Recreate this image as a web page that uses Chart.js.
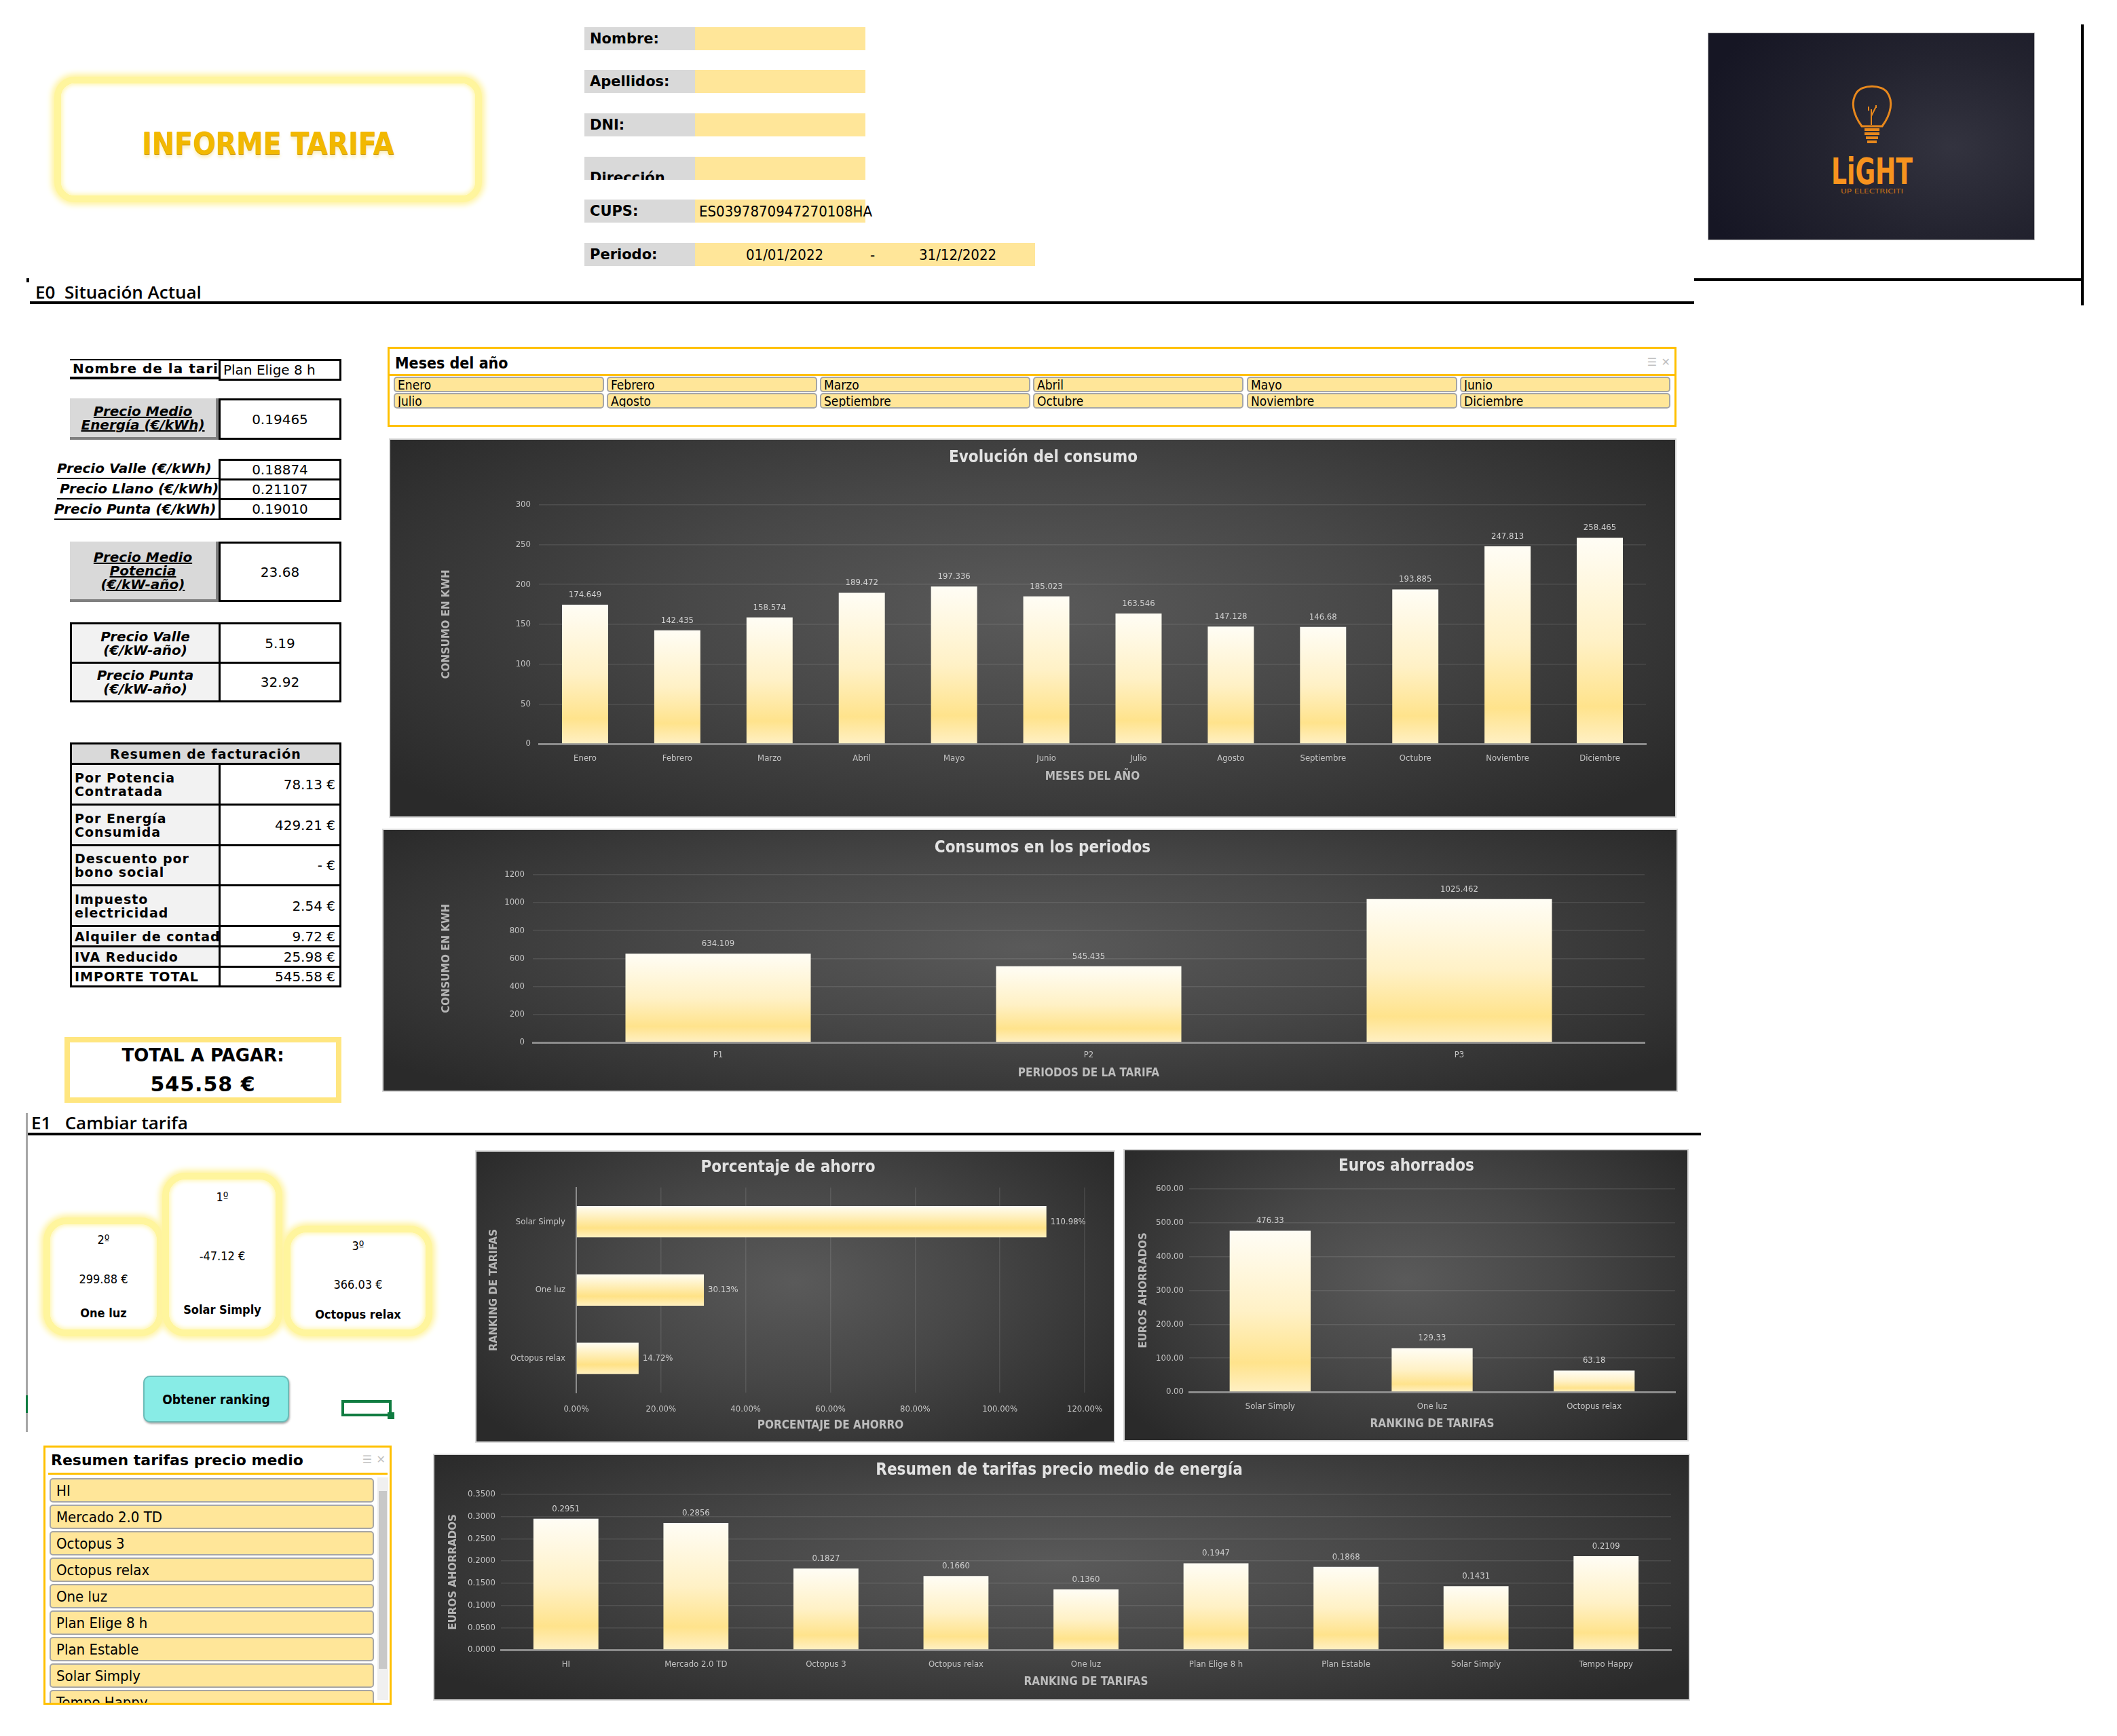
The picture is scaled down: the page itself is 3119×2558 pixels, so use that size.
<!DOCTYPE html>
<html lang="es">
<head>
<meta charset="utf-8">
<title>Informe tarifa</title>
<script src="https://cdn.jsdelivr.net/npm/chart.js@4.4.1/dist/chart.umd.min.js"></script>
<style>
html, body { margin: 0; padding: 0; background: #fff; }
body { width: 3119px; height: 2558px; position: relative; overflow: hidden; font-family: 'DejaVu Sans Condensed', 'DejaVu Sans', sans-serif; color: #000; }
.a { position: absolute; box-sizing: border-box; }
.bar { position: absolute; background: #000; }
.flbl { position: absolute; box-sizing: border-box; background: #d9d9d9; font: bold 21px 'DejaVu Sans', sans-serif; display: flex; align-items: center; padding-left: 8px; }
.fval { position: absolute; box-sizing: border-box; background: #ffe699; font-size: 22px; display: flex; align-items: center; white-space: nowrap; }
.c { position: absolute; box-sizing: border-box; overflow: hidden; font-family: 'DejaVu Sans', sans-serif; font-size: 20px; display: flex; align-items: center; }
.lab { font-weight: bold; font-style: italic; line-height: 20px; justify-content: center; text-align: center; }
.und { text-decoration: underline; }
.gray { background: #d9d9d9; border-right: 4px solid #7f7f7f; border-bottom: 4px solid #7f7f7f; }
.lgray { background: #f2f2f2; }
.box { border: 3px solid #000; }
.val { justify-content: center; }
.rl { font-weight: bold; letter-spacing: 1px; line-height: 20px; padding-left: 4px; background: #f2f2f2; font-size: 19px; }
.rv { justify-content: flex-end; padding-right: 6px; }
.chart { position: absolute; border: 2px solid #d9d9d9; background: radial-gradient(ellipse 62% 75% at 50% 45%, #5a5a5a 0%, #474747 45%, #2a2a2a 100%); }
.glow { position: absolute; box-sizing: border-box; border: 10px solid #fff59d; border-radius: 30px; box-shadow: 0 0 8px 4px #fff3a0, inset 0 0 6px 2px #fff6b0; background: #fff; }
.rank { position: absolute; left: 0; width: 100%; text-align: center; font-size: 18px; }
.slicer { position: absolute; box-sizing: border-box; border: 3px solid #ffc000; background: #fff; }
.sbtn { position: absolute; box-sizing: border-box; background: #ffe699; border: 2px solid #a6a6a6; border-radius: 5px; font-size: 20px; display: flex; align-items: center; padding-left: 4px; white-space: nowrap; overflow: hidden; }
.ico { position: absolute; color: #c0c0c0; font: 16px 'DejaVu Sans', sans-serif; }
</style>
</head>
<body>

<!-- cabecera -->
<div class="glow" style="left:80px;top:113px;width:630px;height:185px;"></div>
<div class="a" style="left:80px;top:186px;width:630px;text-align:center;font:bold 44px 'DejaVu Sans Condensed',sans-serif;color:#f2b800;text-shadow:0 1px 0 #c99200, 0 5px 4px rgba(240,190,0,0.25);">INFORME TARIFA</div>

<div class="flbl" style="left:861px;top:40px;width:163px;height:34px;">Nombre:</div>
<div class="fval" style="left:1024px;top:40px;width:251px;height:34px;"></div>
<div class="flbl" style="left:861px;top:103px;width:163px;height:34px;">Apellidos:</div>
<div class="fval" style="left:1024px;top:103px;width:251px;height:34px;"></div>
<div class="flbl" style="left:861px;top:167px;width:163px;height:34px;">DNI:</div>
<div class="fval" style="left:1024px;top:167px;width:251px;height:34px;"></div>
<div class="flbl" style="left:861px;top:231px;width:163px;height:34px;overflow:hidden;align-items:flex-end;padding-bottom:0;"><span style="position:relative;top:9px;">Dirección</span></div>
<div class="fval" style="left:1024px;top:231px;width:251px;height:34px;"></div>
<div class="flbl" style="left:861px;top:294px;width:163px;height:34px;">CUPS:</div>
<div class="fval" style="left:1024px;top:294px;width:251px;height:34px;padding-left:6px;overflow:visible;">ES0397870947270108HA</div>
<div class="flbl" style="left:861px;top:358px;width:163px;height:34px;">Periodo:</div>
<div class="fval" style="left:1024px;top:358px;width:501px;height:34px;">
  <span style="position:absolute;left:75px;">01/01/2022</span>
  <span style="position:absolute;left:258px;">-</span>
  <span style="position:absolute;left:330px;">31/12/2022</span>
</div>

<!-- logo -->
<div class="a" style="left:2516px;top:48px;width:482px;height:306px;background:radial-gradient(ellipse 80% 90% at 75% 55%, #33333f 0%, #23232f 50%, #161624 100%);border:1px solid #bbb;">
  <svg width="482" height="306" style="position:absolute;left:0;top:0;">
    <path d="M226 137 C212 118 210 100 218 88 C226 75 256 75 264 88 C272 100 270 118 256 137 Z" fill="none" stroke="#e8881c" stroke-width="3"/>
    <path d="M240 135 L240 112 M240 122 L247 108 M236 108 L236 114 M247 106 L247 110" stroke="#e8881c" stroke-width="2" fill="none"/>
    <path d="M230 142 L252 142 M230 148 L252 148 M232 154 L250 154 M234 160 L248 160" stroke="#e8881c" stroke-width="4"/>
    <text x="241" y="222" text-anchor="middle" font-family="DejaVu Sans Condensed" font-weight="bold" font-size="54" fill="#f7931e" textLength="120" lengthAdjust="spacingAndGlyphs">LiGHT</text>
    <text x="241" y="236" text-anchor="middle" font-family="DejaVu Sans Condensed" font-size="9" fill="#c97418" textLength="92" lengthAdjust="spacingAndGlyphs">UP ELECTRICITI</text>
  </svg>
</div>
<div class="bar" style="left:3066px;top:36px;width:4px;height:414px;"></div>
<div class="bar" style="left:2496px;top:410px;width:574px;height:4px;"></div>

<!-- E0 -->
<div class="bar" style="left:39px;top:410px;width:4px;height:6px;"></div>
<div class="a" style="left:52px;top:412px;font:600 26px 'Open Sans',sans-serif;white-space:pre;">E0  Situación Actual</div>
<div class="bar" style="left:44px;top:444px;width:2452px;height:4px;"></div>

<!-- tabla izquierda -->
<div class="c" style="left:103px;top:529px;width:219px;height:30px;border-top:2px solid #000;border-bottom:4px solid #000;font-weight:bold;letter-spacing:1px;white-space:nowrap;padding-left:4px;">Nombre de la tarifa</div>
<div class="c box" style="left:322px;top:529px;width:181px;height:32px;padding-left:4px;white-space:nowrap;">Plan Elige 8 h</div>

<div class="c lab und gray" style="left:103px;top:587px;width:219px;height:61px;">Precio Medio<br>Energía (€/kWh)</div>
<div class="c box val" style="left:322px;top:587px;width:181px;height:61px;">0.19465</div>

<div class="c lab" style="left:84px;top:676px;width:238px;height:30px;justify-content:flex-start;white-space:nowrap;border-bottom:2px solid #000;">Precio Valle (€/kWh)</div>
<div class="c lab" style="left:84px;top:706px;width:238px;height:30px;justify-content:flex-start;white-space:nowrap;border-bottom:2px solid #000;padding-left:4px;">Precio Llano (€/kWh)</div>
<div class="c lab" style="left:80px;top:736px;width:242px;height:30px;justify-content:flex-start;white-space:nowrap;border-bottom:2px solid #000;">Precio Punta (€/kWh)</div>
<div class="c box val" style="left:322px;top:676px;width:181px;height:32px;">0.18874</div>
<div class="c box val" style="left:322px;top:705px;width:181px;height:32px;">0.21107</div>
<div class="c box val" style="left:322px;top:734px;width:181px;height:32px;">0.19010</div>

<div class="c lab und gray" style="left:103px;top:798px;width:219px;height:89px;">Precio Medio<br>Potencia<br>(€/kW-año)</div>
<div class="c box val" style="left:322px;top:798px;width:181px;height:89px;">23.68</div>

<div class="c lab lgray box" style="left:103px;top:917px;width:222px;height:61px;">Precio Valle<br>(€/kW-año)</div>
<div class="c box val" style="left:322px;top:917px;width:181px;height:61px;">5.19</div>
<div class="c lab lgray box" style="left:103px;top:975px;width:222px;height:60px;">Precio Punta<br>(€/kW-año)</div>
<div class="c box val" style="left:322px;top:975px;width:181px;height:60px;">32.92</div>

<div class="c box" style="left:103px;top:1094px;width:400px;height:33px;background:#d9d9d9;justify-content:center;font-weight:bold;letter-spacing:1px;font-size:19px;">Resumen de facturación</div>
<div class="c box rl" style="left:103px;top:1124px;width:222px;height:63px;">Por Potencia<br>Contratada</div>
<div class="c box rv" style="left:322px;top:1124px;width:181px;height:63px;">78.13 €</div>
<div class="c box rl" style="left:103px;top:1184px;width:222px;height:63px;">Por Energía<br>Consumida</div>
<div class="c box rv" style="left:322px;top:1184px;width:181px;height:63px;">429.21 €</div>
<div class="c box rl" style="left:103px;top:1244px;width:222px;height:62px;">Descuento por<br>bono social</div>
<div class="c box rv" style="left:322px;top:1244px;width:181px;height:62px;">- €</div>
<div class="c box rl" style="left:103px;top:1303px;width:222px;height:63px;">Impuesto<br>electricidad</div>
<div class="c box rv" style="left:322px;top:1303px;width:181px;height:63px;">2.54 €</div>
<div class="c box rl" style="left:103px;top:1363px;width:222px;height:33px;white-space:nowrap;">Alquiler de contador</div>
<div class="c box rv" style="left:322px;top:1363px;width:181px;height:33px;">9.72 €</div>
<div class="c box rl" style="left:103px;top:1393px;width:222px;height:33px;white-space:nowrap;">IVA Reducido</div>
<div class="c box rv" style="left:322px;top:1393px;width:181px;height:33px;">25.98 €</div>
<div class="c box rl" style="left:103px;top:1423px;width:222px;height:32px;white-space:nowrap;background:#fff;">IMPORTE TOTAL</div>
<div class="c box rv" style="left:322px;top:1423px;width:181px;height:32px;">545.58 €</div>

<div class="a" style="left:95px;top:1528px;width:408px;height:97px;border:8px solid #ffe680;"></div>
<div class="a" style="left:95px;top:1540px;width:408px;text-align:center;font:bold 26px 'DejaVu Sans',sans-serif;">TOTAL A PAGAR:</div>
<div class="a" style="left:95px;top:1580px;width:408px;text-align:center;font:bold 30px 'DejaVu Sans',sans-serif;letter-spacing:1px;">545.58 €</div>

<!-- segmentación meses -->
<div class="slicer" style="left:571px;top:511px;width:1899px;height:118px;">
  <div class="a" style="left:8px;top:8px;font-size:23px;font-weight:bold;">Meses del año</div>
  <span class="ico" style="right:26px;top:10px;">☰</span><span class="ico" style="right:6px;top:10px;">✕</span>
  <div class="a" style="left:0;top:37px;width:100%;height:3px;background:#ffc000;"></div>
</div>
<div id="mesesSlicer"></div>

<!-- gráficos E0 -->
<div class="chart" style="left:573px;top:646px;width:1893px;height:555px;"><canvas id="chartMeses"></canvas></div>
<div class="chart" style="left:563px;top:1221px;width:1905px;height:384px;"><canvas id="chartPeriodos"></canvas></div>

<!-- E1 -->
<div class="a" style="left:46px;top:1636px;font:600 26px 'Open Sans',sans-serif;white-space:pre;">E1   Cambiar tarifa</div>
<div class="bar" style="left:40px;top:1669px;width:2466px;height:4px;"></div>
<div class="a" style="left:38px;top:1640px;width:3px;height:470px;background:#a6a6a6;"></div>
<div class="a" style="left:38px;top:2056px;width:3px;height:26px;background:#107c41;"></div>

<div class="glow" style="left:64px;top:1794px;width:177px;height:175px;border-radius:34px;">
  <div class="rank" style="top:12px;">2º</div>
  <div class="rank" style="top:70px;">299.88 €</div>
  <div class="rank" style="top:120px;font-weight:bold;">One luz</div>
</div>
<div class="glow" style="left:239px;top:1728px;width:177px;height:241px;border-radius:34px;">
  <div class="rank" style="top:15px;">1º</div>
  <div class="rank" style="top:102px;">-47.12 €</div>
  <div class="rank" style="top:181px;font-weight:bold;">Solar Simply</div>
</div>
<div class="glow" style="left:418px;top:1806px;width:219px;height:163px;border-radius:34px;">
  <div class="rank" style="top:9px;">3º</div>
  <div class="rank" style="top:66px;">366.03 €</div>
  <div class="rank" style="top:110px;font-weight:bold;">Octopus relax</div>
</div>

<div class="a" style="left:211px;top:2027px;width:215px;height:69px;background:#88ece6;border:2px solid #6cbcb8;border-radius:10px;box-shadow:1px 2px 3px rgba(0,0,0,0.35);display:flex;align-items:center;justify-content:center;font-size:19px;font-weight:bold;">Obtener ranking</div>
<div class="a" style="left:503px;top:2063px;width:74px;height:24px;border:4px solid #107c41;"></div>
<div class="a" style="left:571px;top:2081px;width:10px;height:10px;background:#107c41;"></div>

<div class="slicer" style="left:64px;top:2130px;width:513px;height:382px;overflow:hidden;">
  <div class="a" style="left:8px;top:6px;font:bold 22px 'DejaVu Sans',sans-serif;">Resumen tarifas precio medio</div>
  <span class="ico" style="right:26px;top:8px;">☰</span><span class="ico" style="right:6px;top:8px;">✕</span>
  <div class="a" style="left:4px;top:37px;width:500px;height:3px;background:#ffc000;"></div>
  <div class="a" style="left:489px;top:44px;width:16px;height:328px;background:#f0f0f0;"></div>
  <div class="a" style="left:491px;top:64px;width:12px;height:262px;background:#c8c8c8;"></div>
  <div id="tarifasSlicer"></div>
</div>

<!-- gráficos E1 -->
<div class="chart" style="left:700px;top:1695px;width:939px;height:427px;"><canvas id="chartPct"></canvas></div>
<div class="chart" style="left:1655px;top:1693px;width:829px;height:427px;"><canvas id="chartEuros"></canvas></div>
<div class="chart" style="left:638px;top:2142px;width:1848px;height:360px;"><canvas id="chartPrecio"></canvas></div>

<script>
// datos
const meses = ['Enero', 'Febrero', 'Marzo', 'Abril', 'Mayo', 'Junio', 'Julio', 'Agosto', 'Septiembre', 'Octubre', 'Noviembre', 'Diciembre'];
const consumoMes = [174.649, 142.435, 158.574, 189.472, 197.336, 185.023, 163.546, 147.128, 146.68, 193.885, 247.813, 258.465];

const periodos = ['P1', 'P2', 'P3'];
const consumoPeriodo = [634.109, 545.435, 1025.462];

const ranking = ['Solar Simply', 'One luz', 'Octopus relax'];
const ahorroPct = [110.98, 30.13, 14.72];
const ahorroEuros = [476.33, 129.33, 63.18];

const tarifas = ['HI', 'Mercado 2.0 TD', 'Octopus 3', 'Octopus relax', 'One luz', 'Plan Elige 8 h', 'Plan Estable', 'Solar Simply', 'Tempo Happy'];
const precioMedio = [0.2951, 0.2856, 0.1827, 0.1660, 0.1360, 0.1947, 0.1868, 0.1431, 0.2109];

// slicers
(function(){
  let html = '';
  const colX = [580, 894, 1208, 1522, 1837, 2151];
  meses.forEach(function(m, i){
    const x = colX[i % 6], y = i < 6 ? 555 : 579;
    html += '<div class="sbtn" style="left:' + x + 'px;top:' + y + 'px;width:310px;height:23px;font-size:19px;">' + m + '</div>';
  });
  document.getElementById('mesesSlicer').innerHTML = html;

  let t = '';
  tarifas.forEach(function(n, i){
    t += '<div class="sbtn" style="left:6px;top:' + (45 + i * 39) + 'px;width:478px;height:36px;font-size:22px;padding-left:8px;">' + n + '</div>';
  });
  document.getElementById('tarifasSlicer').innerHTML = t;
})();

// estilos comunes
const txtFont = 'DejaVu Sans Condensed';
const tickColor = '#c4c4c4';
const gridColor = 'rgba(255,255,255,0.10)';

function fmt(v, kind) {
  if (kind === 'pct') return Number(v).toFixed(2) + '%';
  if (kind === 'f2') return Number(v).toFixed(2);
  if (kind === 'f4') return Number(v).toFixed(4);
  return String(v);
}

function barFill(c, horizontal, barPct) {
  const chart = c.chart;
  if (!chart.chartArea) return '#ffe699';
  const ctx = chart.ctx;
  let g;
  if (horizontal) {
    const s = chart.scales.y;
    const mid = s.getPixelForValue(c.dataIndex);
    const half = s.height / chart.data.labels.length * barPct / 2;
    g = ctx.createLinearGradient(0, mid - half, 0, mid + half);
    g.addColorStop(0, '#fffdf3');
    g.addColorStop(0.7, '#ffe286');
    g.addColorStop(1, '#fff0c0');
  } else {
    const s = chart.scales.y;
    const top = s.getPixelForValue(c.raw);
    const base = s.getPixelForValue(0);
    g = ctx.createLinearGradient(0, top, 0, base);
    g.addColorStop(0, '#fffdf5');
    g.addColorStop(0.5, '#fff1c6');
    g.addColorStop(0.82, '#ffe38c');
    g.addColorStop(1, '#fff0c4');
  }
  return g;
}

const barLabels = {
  id: 'barLabels',
  afterDatasetsDraw(chart, args, opts) {
    const ctx = chart.ctx;
    const meta = chart.getDatasetMeta(0);
    const data = chart.data.datasets[0].data;
    ctx.save();
    ctx.font = '13px "' + txtFont + '"';
    ctx.fillStyle = '#d0d0d0';
    meta.data.forEach(function(el, i){
      const s = fmt(data[i], opts.kind);
      if (chart.options.indexAxis === 'y') {
        ctx.textAlign = 'left'; ctx.textBaseline = 'middle';
        ctx.fillText(s, el.x + 6, el.y);
      } else {
        ctx.textAlign = 'center'; ctx.textBaseline = 'bottom';
        ctx.fillText(s, el.x, el.y - 8);
      }
    });
    ctx.restore();
  }
};

function makeChart(id, p) {
  const horizontal = !!p.horizontal;
  const barPct = p.barPct || 0.5;
  const valScale = {
    min: p.min, max: p.max,
    ticks: { stepSize: p.step, color: tickColor, font: { family: txtFont, size: 13 }, padding: p.valTickPad, callback: function(v){ return fmt(v, p.tickKind); } },
    grid: { display: true, color: gridColor, lineWidth: 1.5, drawTicks: false },
    border: { display: false }
  };
  const catScale = {
    ticks: { color: tickColor, font: { family: txtFont, size: 13 }, padding: p.catTickPad, autoSkip: false, maxRotation: 0 },
    grid: { display: false, drawTicks: false },
    border: { display: true, color: '#8c8c8c', width: horizontal ? 2 : 3 }
  };
  const xs = horizontal ? valScale : catScale;
  const ys = horizontal ? catScale : valScale;
  xs.title = { display: true, text: p.xTitle, color: '#bdbdbd', font: { family: txtFont, size: 17, weight: 'bold' }, padding: 0 };
  ys.title = { display: true, text: p.yTitle, color: '#b5b5b5', font: { family: 'DejaVu Sans', size: 15, weight: 'bold' }, padding: 0 };
  xs.afterFit = function(scale){ scale.height = p.xHeight; };
  ys.afterFit = function(scale){ scale.width = p.yWidth; };

  return new Chart(document.getElementById(id), {
    type: 'bar',
    data: {
      labels: p.labels,
      datasets: [{
        data: p.data,
        backgroundColor: function(c){ return barFill(c, horizontal, barPct); },
        borderWidth: 0,
        categoryPercentage: 1,
        barPercentage: barPct
      }]
    },
    options: {
      indexAxis: horizontal ? 'y' : 'x',
      responsive: true,
      maintainAspectRatio: false,
      animation: false,
      layout: { padding: p.pad },
      plugins: {
        legend: { display: false },
        tooltip: { enabled: false },
        title: { display: true, text: p.title, color: '#e2e2e2', font: { family: txtFont, size: 24, weight: 'bold' }, padding: p.titlePad },
        barLabels: { kind: p.labelKind }
      },
      scales: { x: xs, y: ys }
    },
    plugins: [barLabels]
  });
}

makeChart('chartMeses', {
  labels: meses, data: consumoMes,
  title: 'Evolución del consumo', xTitle: 'MESES DEL AÑO', yTitle: 'CONSUMO EN KWH',
  min: 0, max: 300, step: 50, tickKind: 'raw', labelKind: 'raw',
  pad: { left: 74, right: 43, top: 0, bottom: 48 },
  titlePad: { top: 12, bottom: 55 },
  yWidth: 145, xHeight: 59, valTickPad: 12, catTickPad: 14
});

makeChart('chartPeriodos', {
  labels: periodos, data: consumoPeriodo,
  title: 'Consumos en los periodos', xTitle: 'PERIODOS DE LA TARIFA', yTitle: 'CONSUMO EN KWH',
  min: 0, max: 1200, step: 200, tickKind: 'raw', labelKind: 'raw',
  pad: { left: 84, right: 47, top: 0, bottom: 15 },
  titlePad: { top: 12, bottom: 25 },
  yWidth: 136, xHeight: 56, valTickPad: 12, catTickPad: 11
});

makeChart('chartPct', {
  horizontal: true, barPct: 0.46,
  labels: ranking, data: ahorroPct,
  title: 'Porcentaje de ahorro', xTitle: 'PORCENTAJE DE AHORRO', yTitle: 'RANKING DE TARIFAS',
  min: 0, max: 120, step: 20, tickKind: 'pct', labelKind: 'pct',
  pad: { left: 17, right: 38, top: 0, bottom: 13 },
  titlePad: { top: 9, bottom: 15 },
  yWidth: 130, xHeight: 59, valTickPad: 17, catTickPad: 16
});

makeChart('chartEuros', {
  labels: ranking, data: ahorroEuros,
  title: 'Euros ahorrados', xTitle: 'RANKING DE TARIFAS', yTitle: 'EUROS AHORRADOS',
  min: 0, max: 600, step: 100, tickKind: 'f2', labelKind: 'f2',
  pad: { left: 19, right: 18, top: 0, bottom: 13 },
  titlePad: { top: 9, bottom: 19 },
  yWidth: 76, xHeight: 58, valTickPad: 8, catTickPad: 14
});

makeChart('chartPrecio', {
  labels: tarifas, data: precioMedio,
  title: 'Resumen de tarifas precio medio de energía', xTitle: 'RANKING DE TARIFAS', yTitle: 'EUROS AHORRADOS',
  min: 0, max: 0.35, step: 0.05, tickKind: 'f4', labelKind: 'f4',
  pad: { left: 19, right: 26, top: 0, bottom: 15 },
  titlePad: { top: 8, bottom: 21 },
  yWidth: 79, xHeight: 58, valTickPad: 8, catTickPad: 14
});
</script>
</body>
</html>
